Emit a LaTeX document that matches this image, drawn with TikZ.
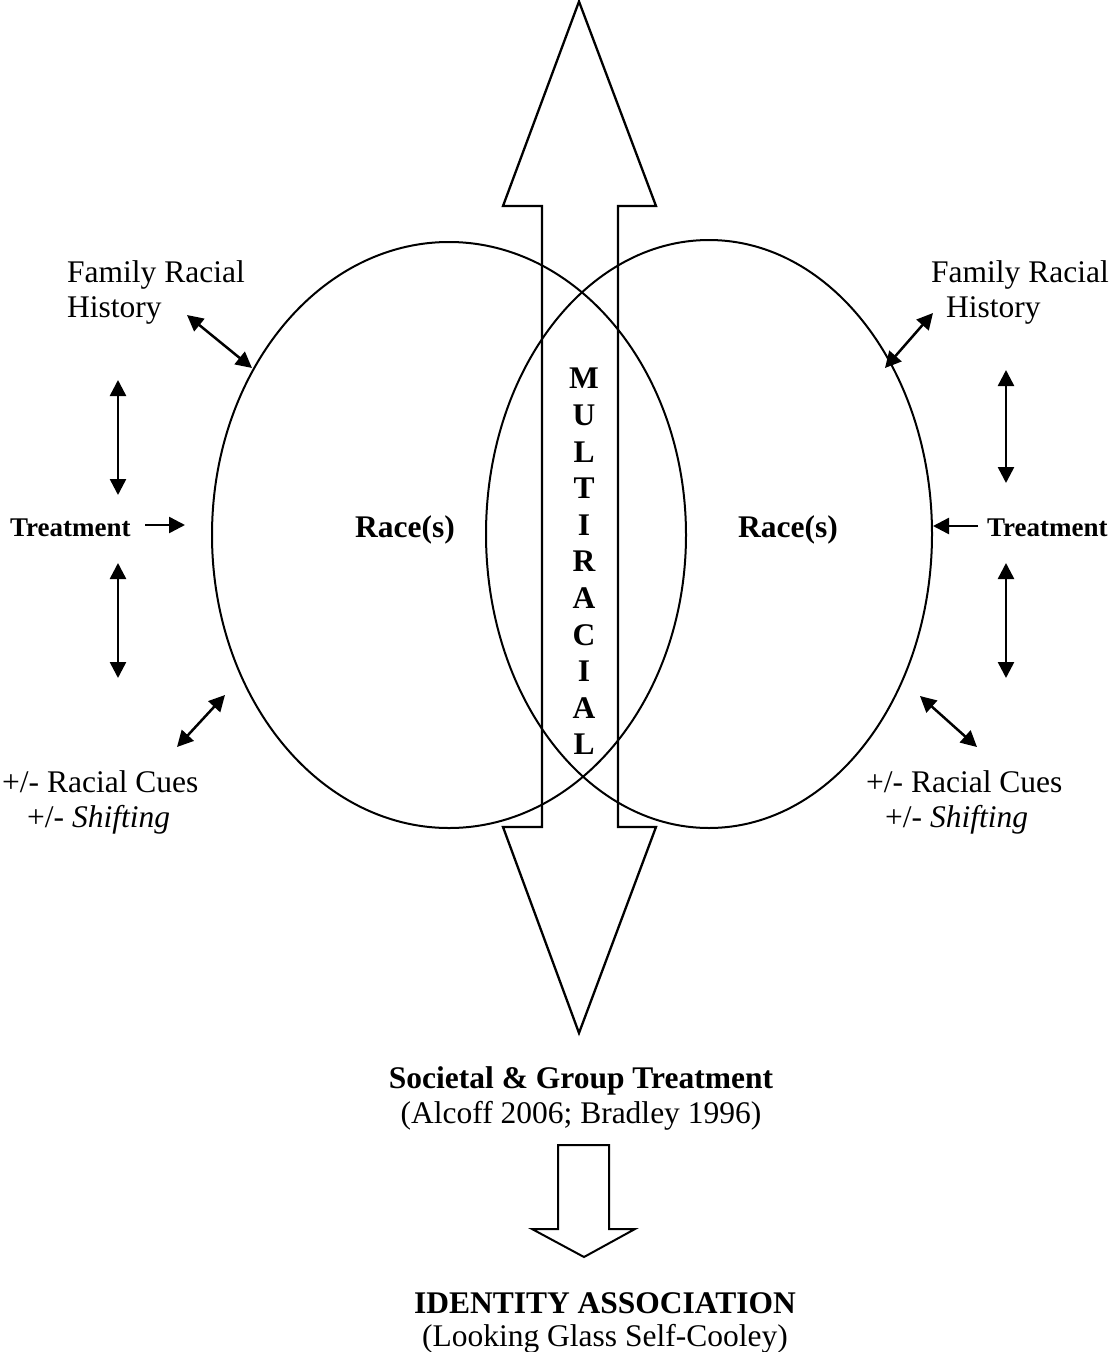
\documentclass[tikz,border=0pt]{standalone}
\usepackage{fontspec}
\setmainfont{Liberation Serif}
\usetikzlibrary{arrows.meta,shapes.geometric}
\begin{document}
\begin{tikzpicture}[x=1pt,y=-1pt,
  txt/.style={font=\fontsize{31.5}{35}\selectfont, inner sep=0pt, align=left},
  btxt/.style={font=\fontsize{31.5}{35}\selectfont\bfseries, inner sep=0pt},
  smallb/.style={font=\fontsize{27}{30}\selectfont\bfseries, inner sep=0pt},
  dbl/.style={line width=2.5pt, {Triangle[length=16pt,width=16pt]}-{Triangle[length=16pt,width=16pt]}},
  sgl/.style={line width=2.5pt, -{Triangle[length=16pt,width=16pt]}},
  ring/.style={draw, ellipse, line width=2pt, inner sep=0pt},
  block/.style={line width=2.3pt, line join=miter}]
\useasboundingbox (0,0) rectangle (1109,1352);

% ellipses
\node[ring, minimum width=474pt, minimum height=586pt] (L) at (449,535) {};
\node[ring, minimum width=446pt, minimum height=588pt] (R) at (709,534) {};

% big double block arrow
\draw[block] (579,1.5) -- (656,206) -- (618,206) -- (618,827) -- (656,827) -- (579,1033)
  -- (503,827) -- (542,827) -- (542,206) -- (503,206) -- cycle;

% vertical word
\node[font=\fontsize{31.5}{36.6}\selectfont\bfseries, inner sep=0pt, align=center] (multi) at (584,561.5)
  {M\\U\\L\\T\\I\\R\\A\\C\\I\\A\\L};

% race labels
\node[btxt, anchor=base] (raceL) at (405,537) {Race(s)};
\node[btxt, anchor=base] (raceR) at (788,537) {Race(s)};

% left side texts
\node[txt, anchor=north west] (famL) at (67,260) {Family Racial\\History};
\node[smallb, anchor=base west] (treatL) at (10,536) {Treatment};
\node[txt, anchor=north west] (cueL) at (2,770.5) {+/- Racial Cues\\\hspace*{25pt}+/- \textit{Shifting}};

% right side texts
\node[txt, anchor=north west] (famR) at (931,260) {Family Racial\\\hspace*{15pt}History};
\node[smallb, anchor=base west] (treatR) at (987,536) {Treatment};
\node[txt, anchor=north west] (cueR) at (866,770.5) {+/- Racial Cues\\\hspace*{19pt}+/- \textit{Shifting}};

% coordinates for small connectors
\coordinate (fL1) at (187,315); \coordinate (fL2) at (252,368);
\coordinate (vL1) at (118,380); \coordinate (vL2) at (118,495);
\coordinate (tL1) at (145,525); \coordinate (tL2) at (185,525);
\coordinate (vL3) at (118,563); \coordinate (vL4) at (118,678);
\coordinate (cL1) at (177,747); \coordinate (cL2) at (225,695);

\coordinate (fR1) at (885,368); \coordinate (fR2) at (933,313);
\coordinate (vR1) at (1006,370); \coordinate (vR2) at (1006,483);
\coordinate (tR1) at (978,526); \coordinate (tR2) at (933,526);
\coordinate (vR3) at (1006,563); \coordinate (vR4) at (1006,678);
\coordinate (cR1) at (920,696); \coordinate (cR2) at (977,747);

\draw[dbl] (fL1) -- (fL2);
\draw[dbl] (vL1) -- (vL2);
\draw[sgl] (tL1) -- (tL2);
\draw[dbl] (vL3) -- (vL4);
\draw[dbl] (cL1) -- (cL2);

\draw[dbl] (fR1) -- (fR2);
\draw[dbl] (vR1) -- (vR2);
\draw[sgl] (tR1) -- (tR2);
\draw[dbl] (vR3) -- (vR4);
\draw[dbl] (cR1) -- (cR2);

% bottom texts
\node[txt, align=center, anchor=north] (soc) at (581,1066.5)
  {\textbf{Societal \& Group Treatment}\\(Alcoff 2006; Bradley 1996)};
\node[font=\fontsize{31.5}{33}\selectfont, inner sep=0pt, align=center, anchor=north] (ident) at (605,1292)
  {\textbf{IDENTITY ASSOCIATION}\\(Looking Glass Self-Cooley)};

% small down block arrow
\draw[block, line width=2pt] (558,1145) -- (609,1145) -- (609,1229) -- (635,1229) -- (584,1257)
  -- (532,1229) -- (558,1229) -- cycle;
\end{tikzpicture}
\end{document}
